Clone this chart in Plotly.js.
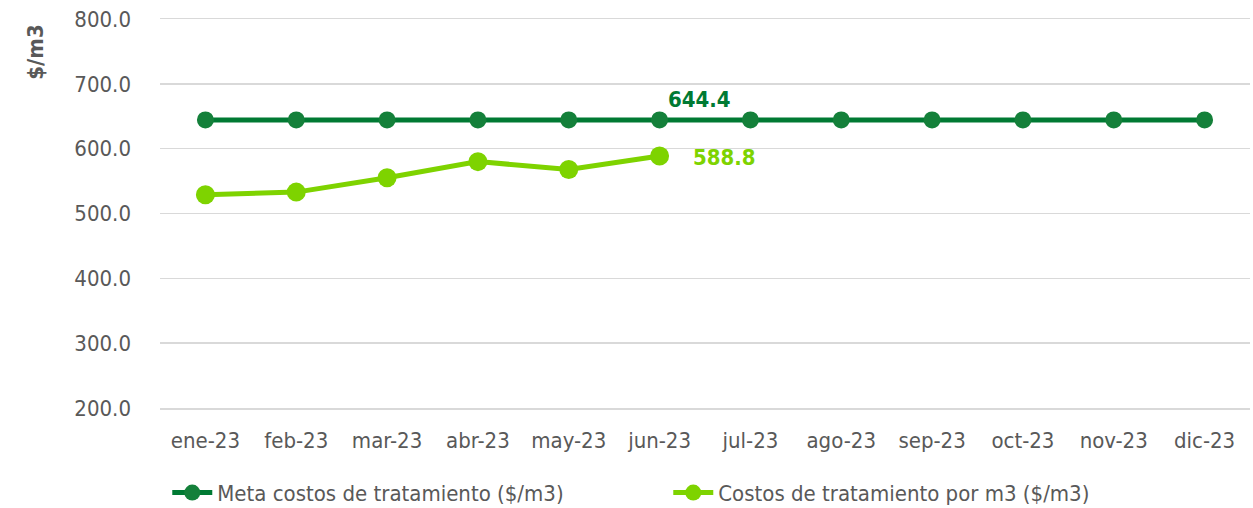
<!DOCTYPE html>
<html><head><meta charset="utf-8">
<script src="https://cdn.plot.ly/plotly-3.0.1.min.js"></script>
<style>body{margin:0;background:#fff}#c{width:1253px;height:508px}</style>
</head><body><div id="c"></div>
<script>
const months = ["ene-23","feb-23","mar-23","abr-23","may-23","jun-23","jul-23","ago-23","sep-23","oct-23","nov-23","dic-23"];
const meta = [644.4,644.4,644.4,644.4,644.4,644.4,644.4,644.4,644.4,644.4,644.4,644.4];
const costos = [529,533,555,580,568,588.8];
const metaName = "Meta costos de tratamiento ($/m3)";
const costosName = "Costos de tratamiento por m3 ($/m3)";
const yTicks = [200,300,400,500,600,700,800];

const dark = "#007a33", darkM = "#14803a", light = "#7ed300";
const F = "'DejaVu Sans Condensed', 'DejaVu Sans', sans-serif";
const FS = 22;

const traces = [
 {x: months, y: meta, name: metaName, mode: "lines+markers",
  line:{color:dark,width:5}, marker:{color:darkM,size:17}},
 {x: months.slice(0,costos.length), y: costos, name: costosName, mode: "lines+markers",
  line:{color:light,width:5}, marker:{color:light,size:19}}
];
const layout = {
 width:1253, height:508, margin:{l:160,r:3,t:19,b:100, autoexpand:false},
 paper_bgcolor:"#fff", plot_bgcolor:"#fff",
 font:{family:F, size:FS, color:"#595959"},
 showlegend:true,
 legend:{orientation:"h", xref:"container", yref:"container", x:0.1335, xanchor:"left", y:0.03, yanchor:"middle", font:{size:FS,color:"#595959"}, entrywidth:446, itemwidth:40},
 xaxis:{type:"category", range:[-0.5,11.5], showgrid:false, zeroline:false, showline:true, mirror:true, linecolor:"#d9d9d9", linewidth:1.5, ticks:"", ticklen:0, ticklabelstandoff:12, tickfont:{size:FS}, automargin:false},
 yaxis:{range:[200,800], tickvals:yTicks, ticktext:yTicks.map(v=>v.toFixed(1)), showgrid:true, gridcolor:"#d9d9d9", gridwidth:1.5, zeroline:false, showline:false, ticks:"", ticklabelstandoff:28, tickfont:{size:FS}, automargin:false},
 annotations:[
  {xref:"paper", yref:"paper", x:-0.115, y:0.915, text:"<b>$/m3</b>", textangle:-90, showarrow:false, font:{size:FS,color:"#595959"}, xanchor:"center", yanchor:"middle"},
  {x:months[5], y:meta[5], text:"<b>"+meta[5].toFixed(1)+"</b>", showarrow:false, xanchor:"left", yanchor:"bottom", xshift:6, yshift:6, font:{size:FS,color:dark}},
  {x:months[5], y:costos[5], text:"<b>"+costos[5].toFixed(1)+"</b>", showarrow:false, xanchor:"left", yanchor:"middle", xshift:31, yshift:-2, font:{size:FS,color:light}}
 ]
};
Plotly.newPlot("c", traces, layout, {displayModeBar:false, staticPlot:true});
</script></body></html>
